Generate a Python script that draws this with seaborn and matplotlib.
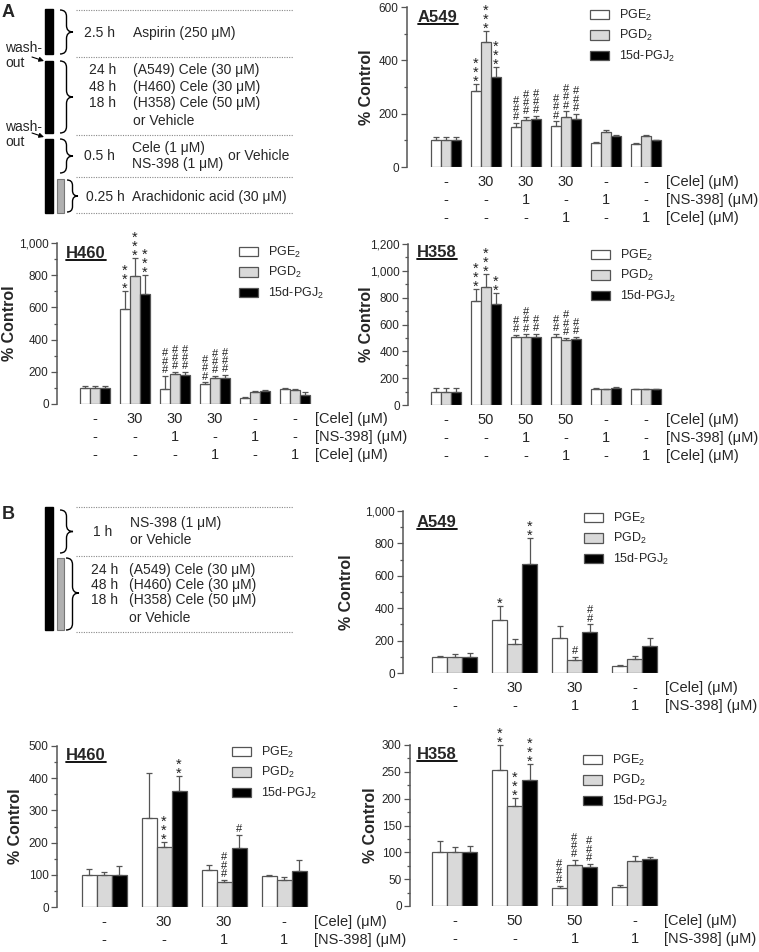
import numpy as np
import pandas as pd
import matplotlib
matplotlib.use("Agg")
import matplotlib.pyplot as plt
import seaborn as sns
from matplotlib.path import Path
from matplotlib.patches import PathPatch, Rectangle
from matplotlib.lines import Line2D
from matplotlib import transforms
from matplotlib.ticker import MultipleLocator, FuncFormatter

sns.set_style("ticks")
plt.rcParams["font.family"] = ["Liberation Sans", "DejaVu Sans"]
plt.rcParams["mathtext.fontset"] = "custom"
plt.rcParams["mathtext.rm"] = "Liberation Sans"

W, H = 759, 952
EDGE = "#555555"

series = ["PGE$_2$", "PGD$_2$", "15d-PGJ$_2$"]
colors = ["white", "#d9d9d9", "black"]

# ---------------- Panel A data ----------------
rowsA_names = ["[Cele] (\u03bcM)", "[NS-398] (\u03bcM)", "[Cele] (\u03bcM)"]
rowsA_cele30 = ["-", "30", "30", "30", "-", "-"]
rowsA_cele50 = ["-", "50", "50", "50", "-", "-"]
rowsA_ns = ["-", "-", "1", "-", "1", "-"]
rowsA_cele1 = ["-", "-", "-", "1", "-", "1"]

a549A_pge2 = [100, 285, 150, 155, 91, 87]
a549A_pgd2 = [100, 467, 177, 189, 132, 117]
a549A_15d = [100, 337, 181, 181, 115, 100]
a549A_pge2_err = [12, 27, 16, 16, 4, 3]
a549A_pgd2_err = [12, 43, 10, 20, 8, 4]
a549A_15d_err = [12, 38, 11, 19, 5, 2]
a549A_pge2_sig = ["", "***", "###", "###", "", ""]
a549A_pgd2_sig = ["", "***", "###", "###", "", ""]
a549A_15d_sig = ["", "***", "###", "###", "", ""]

h460A_pge2 = [100, 593, 91, 126, 35, 91]
h460A_pgd2 = [100, 792, 184, 161, 76, 89]
h460A_15d = [100, 684, 180, 159, 83, 56]
h460A_pge2_err = [14, 110, 85, 8, 10, 6]
h460A_pgd2_err = [14, 115, 16, 13, 7, 4]
h460A_15d_err = [12, 116, 18, 23, 6, 20]
h460A_pge2_sig = ["", "***", "###", "###", "", ""]
h460A_pgd2_sig = ["", "***", "###", "###", "", ""]
h460A_15d_sig = ["", "***", "###", "###", "", ""]

h358A_pge2 = [100, 776, 505, 505, 119, 119]
h358A_pgd2 = [100, 881, 505, 488, 117, 119]
h358A_15d = [100, 756, 505, 490, 129, 119]
h358A_pge2_err = [24, 90, 17, 27, 8, 3]
h358A_pgd2_err = [24, 94, 22, 14, 5, 3]
h358A_15d_err = [24, 77, 25, 17, 5, 3]
h358A_pge2_sig = ["", "***", "##", "##", "", ""]
h358A_pgd2_sig = ["", "***", "###", "###", "", ""]
h358A_15d_sig = ["", "**", "##", "##", "", ""]

# ---------------- Panel B data ----------------
rowsB_names = ["[Cele] (\u03bcM)", "[NS-398] (\u03bcM)"]
rowsB_cele30 = ["-", "30", "30", "-"]
rowsB_cele50 = ["-", "50", "50", "-"]
rowsB_ns = ["-", "-", "1", "1"]

a549B_pge2 = [100, 328, 215, 41]
a549B_pgd2 = [100, 178, 80, 86]
a549B_15d = [100, 672, 254, 164]
a549B_pge2_err = [5, 88, 76, 6]
a549B_pgd2_err = [15, 33, 18, 21]
a549B_15d_err = [26, 164, 47, 55]
a549B_pge2_sig = ["", "*", "", ""]
a549B_pgd2_sig = ["", "", "#", ""]
a549B_15d_sig = ["", "**", "##", ""]

h460B_pge2 = [100, 275, 115, 97]
h460B_pgd2 = [100, 187, 77, 84]
h460B_15d = [100, 359, 184, 112]
h460B_pge2_err = [17, 140, 15, 3]
h460B_pgd2_err = [9, 14, 8, 10]
h460B_15d_err = [28, 47, 39, 33]
h460B_pge2_sig = ["", "", "", ""]
h460B_pgd2_sig = ["", "***", "###", ""]
h460B_15d_sig = ["", "**", "#", ""]

h358B_pge2 = [100, 253, 33, 36]
h358B_pgd2 = [100, 187, 77, 84]
h358B_15d = [100, 235, 72, 87]
h358B_pge2_err = [21, 47, 4, 4]
h358B_pgd2_err = [10, 15, 9, 10]
h358B_15d_err = [12, 30, 7, 4]
h358B_pge2_sig = ["", "**", "###", ""]
h358B_pgd2_sig = ["", "***", "###", ""]
h358B_15d_sig = ["", "***", "###", ""]

fig = plt.figure(figsize=(W / 100, H / 100), dpi=100)

# ---------------- schematic overlay ----------------
ov = fig.add_axes([0, 0, 1, 1], zorder=0)
ov.set_xlim(0, W)
ov.set_ylim(H, 0)
ov.axis("off")


def brace(x0, yt, yb, w, ytip=None):
    if ytip is None:
        ytip = (yt + yb) / 2
    xm = x0 + w * 0.5
    xt = x0 + w
    r = w * 0.5
    verts = [(x0, yt), (xm, yt), (xm, yt + r), (xm, ytip - r), (xm, ytip), (xt, ytip),
             (xm, ytip), (xm, ytip + r), (xm, yb - r), (xm, yb), (x0, yb)]
    codes = [Path.MOVETO, Path.CURVE3, Path.CURVE3, Path.LINETO, Path.CURVE3, Path.CURVE3,
             Path.CURVE3, Path.CURVE3, Path.LINETO, Path.CURVE3, Path.CURVE3]
    ov.add_patch(PathPatch(Path(verts, codes), fill=False, lw=1.0, color="black"))


def dotted(y):
    ov.plot([76, 293], [y, y], color="#888888", lw=0.8, ls=(0, (1, 1.2)))


def txt(x, y, s, ha="left", size=10, **kw):
    ov.text(x, y, s, ha=ha, va="center", fontsize=size, **kw)


# Panel A schematic
ov.text(2, 4, "A", fontsize=13, fontweight="bold", va="top", ha="left")
for (y1, y2) in [(9, 54), (61, 133), (139, 213)]:
    ov.add_patch(Rectangle((45, y1), 8, y2 - y1, color="black"))
ov.add_patch(Rectangle((57, 179), 7, 34, facecolor="#b0b0b0", edgecolor="#777777", lw=0.8))
for y in [10, 57, 135, 177, 213]:
    dotted(y)
brace(60, 10, 54, 13)
brace(60, 61, 133, 13)
brace(60, 139, 173, 13)
brace(67, 180, 212, 11)
txt(115, 33, "2.5 h", ha="right")
txt(133, 33, "Aspirin (250 \u03bcM)")
for y, t, s in [(70, "24 h", "(A549) Cele (30 \u03bcM)"), (87, "48 h", "(H460) Cele (30 \u03bcM)"),
                (103, "18 h", "(H358) Cele (50 \u03bcM)")]:
    txt(116, y, t, ha="right")
    txt(133, y, s)
txt(133, 121, "or Vehicle")
txt(115, 156, "0.5 h", ha="right")
txt(132, 148, "Cele (1 \u03bcM)")
txt(132, 164, "NS-398 (1 \u03bcM)")
txt(228, 156, "or Vehicle")
txt(125, 197, "0.25 h", ha="right")
txt(132, 197, "Arachidonic acid (30 \u03bcM)")
txt(5, 48, "wash-")
txt(5, 63, "out")
txt(5, 127, "wash-")
txt(5, 142, "out")
for (ya, yb) in [(57, 61), (133, 137)]:
    ov.annotate("", xy=(44, yb), xytext=(32, ya),
                arrowprops=dict(arrowstyle="-|>", lw=0.8, color="black", mutation_scale=7,
                                shrinkA=0, shrinkB=0))

# Panel B schematic
ov.text(2, 506, "B", fontsize=13, fontweight="bold", va="top", ha="left")
ov.add_patch(Rectangle((45, 507), 8, 123, color="black"))
ov.add_patch(Rectangle((57, 558), 7, 72, facecolor="#b0b0b0", edgecolor="#777777", lw=0.8))
for y in [507, 556, 632]:
    dotted(y)
brace(60, 510, 553, 13)
brace(66, 558, 630, 13, ytip=593)
txt(112, 532, "1 h", ha="right")
txt(130, 523, "NS-398 (1 \u03bcM)")
txt(130, 540, "or Vehicle")
for y, t, s in [(570, "24 h", "(A549) Cele (30 \u03bcM)"), (585, "48 h", "(H460) Cele (30 \u03bcM)"),
                (600, "18 h", "(H358) Cele (50 \u03bcM)")]:
    txt(118, y, t, ha="right")
    txt(129, y, s)
txt(129, 618, "or Vehicle")

titles = []


def panel(geom, means, errs, sigs, rows, row_names, ymax, major, minor, title, title_pos,
          leg_pos, ylab_off):
    left, y0, ytop, right, c0, sp = geom
    ax = fig.add_axes([left / W, 1 - y0 / H, (right - left) / W, (y0 - ytop) / H], zorder=2)
    ax.patch.set_alpha(0)
    n = len(means[0])
    groups = [f"g{i}" for i in range(n)]
    df = pd.DataFrame({
        "group": np.tile(groups, 3),
        "series": np.repeat(series, n),
        "value": np.concatenate(means),
    })
    sns.barplot(data=df, x="group", y="value", hue="series", order=groups, hue_order=series,
                palette=colors, width=0.75, errorbar=None, edgecolor=EDGE, linewidth=0.9,
                ax=ax, zorder=2)
    for cont, err, sg in zip(ax.containers, errs, sigs):
        xs = np.array([p.get_x() + p.get_width() / 2 for p in cont])
        hs = np.array([p.get_height() for p in cont])
        ax.errorbar(xs, hs, yerr=[np.zeros(n), err], fmt="none", ecolor=EDGE, elinewidth=0.9,
                    capsize=2.5, capthick=0.9, zorder=3, clip_on=False)
        for x, h, e, s in zip(xs, hs, err, sg):
            if not s:
                continue
            if "*" in s:
                kw = dict(fontsize=10.5, linespacing=0.55, xytext=(0, -3.5))
            else:
                kw = dict(fontsize=8, linespacing=0.78, xytext=(0, 0.5))
            ax.annotate("\n".join(s), (x, h + e), textcoords="offset points",
                        ha="center", va="bottom", annotation_clip=False, color="#222222", **kw)
    ax.set_xlim((left - c0) / sp, (right - c0) / sp)
    ax.set_ylim(0, ymax)
    ax.yaxis.set_major_locator(MultipleLocator(major))
    ax.yaxis.set_minor_locator(MultipleLocator(minor))
    ax.yaxis.set_major_formatter(FuncFormatter(lambda v, p: f"{int(round(v)):,}"))
    ax.tick_params(axis="y", which="major", length=4.5, width=0.9, color=EDGE, labelsize=8.5,
                   pad=1.5)
    ax.tick_params(axis="y", which="minor", length=2.5, width=0.9, color=EDGE)
    ax.tick_params(axis="x", bottom=False, labelbottom=False)
    for s in ["top", "right", "bottom"]:
        ax.spines[s].set_visible(False)
    ax.spines["left"].set_color(EDGE)
    ax.spines["left"].set_linewidth(1.1)
    ax.set_xlabel("")
    ax.set_ylabel("% Control", fontsize=11.5, fontweight="bold")
    ax.yaxis.set_label_coords((ylab_off + 2) / (right - left), 0.5)
    # condition rows
    offsets = [15, 33, 51]
    for r, (vals, name) in enumerate(zip(rows, row_names)):
        tr = transforms.offset_copy(ax.get_xaxis_transform(), fig=fig, y=-offsets[r], units="dots")
        for i, v in enumerate(vals):
            ax.text(i, 0, v, transform=tr, ha="center", va="center", fontsize=10.5)
        ax.text(n - 1 + 0.5, 0, name, transform=tr, ha="left", va="center", fontsize=10.5)
    sns.move_legend(ax, "upper left", bbox_to_anchor=(leg_pos[0] / W, 1 - leg_pos[1] / H),
                    bbox_transform=fig.transFigure, title=None, frameon=False, fontsize=9,
                    handlelength=1.5, handleheight=0.75, handletextpad=0.8, labelspacing=0.42,
                    borderpad=0, borderaxespad=0)
    t = fig.text(title_pos[0] / W, 1 - title_pos[1] / H, title, fontsize=12, fontweight="bold",
                 ha="left", va="top")
    titles.append(t)
    return ax


panel((407, 167, 7, 700, 445.7, 40),
      [a549A_pge2, a549A_pgd2, a549A_15d], [a549A_pge2_err, a549A_pgd2_err, a549A_15d_err],
      [a549A_pge2_sig, a549A_pgd2_sig, a549A_15d_sig],
      [rowsA_cele30, rowsA_ns, rowsA_cele1], rowsA_names, 600, 200, 100, "A549", (418, 10),
      (590, 8), -35)
panel((57, 404, 243, 330, 94.7, 40),
      [h460A_pge2, h460A_pgd2, h460A_15d], [h460A_pge2_err, h460A_pgd2_err, h460A_15d_err],
      [h460A_pge2_sig, h460A_pgd2_sig, h460A_15d_sig],
      [rowsA_cele30, rowsA_ns, rowsA_cele1], rowsA_names, 1000, 200, 100, "H460", (66, 246),
      (239, 245), -42)
panel((408, 405, 244, 700, 445.7, 40),
      [h358A_pge2, h358A_pgd2, h358A_15d], [h358A_pge2_err, h358A_pgd2_err, h358A_15d_err],
      [h358A_pge2_sig, h358A_pgd2_sig, h358A_15d_sig],
      [rowsA_cele50, rowsA_ns, rowsA_cele1], rowsA_names, 1200, 200, 100, "H358", (417, 245),
      (591, 248), -36)
panel((403, 673, 511, 700, 454.7, 60),
      [a549B_pge2, a549B_pgd2, a549B_15d], [a549B_pge2_err, a549B_pgd2_err, a549B_15d_err],
      [a549B_pge2_sig, a549B_pgd2_sig, a549B_15d_sig],
      [rowsB_cele30, rowsB_ns], rowsB_names, 1000, 200, 100, "A549", (417, 515),
      (584, 511), -51)
panel((57, 907, 746, 330, 104, 60),
      [h460B_pge2, h460B_pgd2, h460B_15d], [h460B_pge2_err, h460B_pgd2_err, h460B_15d_err],
      [h460B_pge2_sig, h460B_pgd2_sig, h460B_15d_sig],
      [rowsB_cele30, rowsB_ns], rowsB_names, 500, 100, 50, "H460", (66, 748),
      (232, 745), -36)
panel((410, 906, 745, 700, 454.5, 60),
      [h358B_pge2, h358B_pgd2, h358B_15d], [h358B_pge2_err, h358B_pgd2_err, h358B_15d_err],
      [h358B_pge2_sig, h358B_pgd2_sig, h358B_15d_sig],
      [rowsB_cele50, rowsB_ns], rowsB_names, 300, 50, 25, "H358", (417, 747),
      (583, 753), -34)

# underline titles
fig.canvas.draw()
r = fig.canvas.get_renderer()
for t in titles:
    bb = t.get_window_extent(renderer=r)
    y = (bb.y0 + 1.5) / H
    fig.add_artist(Line2D([bb.x0 / W, bb.x1 / W], [y, y], color="black", lw=1.3,
                          transform=fig.transFigure))

fig.savefig("out.png", dpi=100)
